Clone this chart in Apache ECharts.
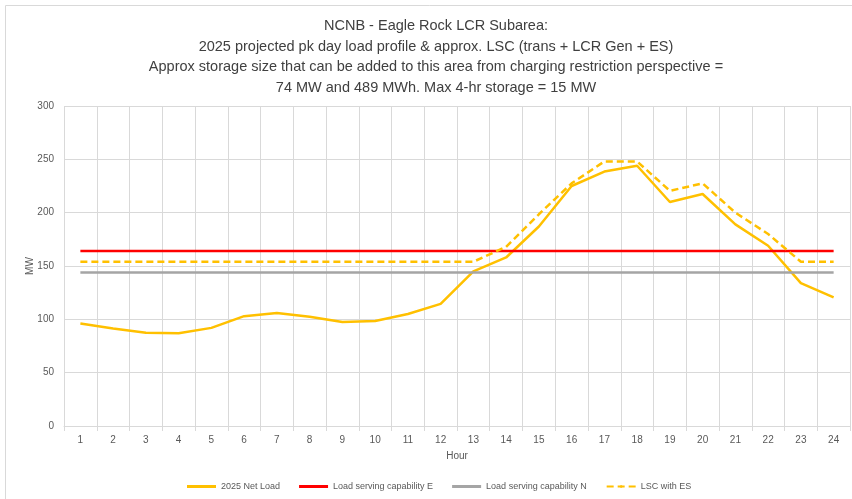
<!DOCTYPE html>
<html>
<head>
<meta charset="utf-8">
<script src="https://cdn.jsdelivr.net/npm/echarts@6/dist/echarts.min.js"></script>
<style>
  html, body { margin: 0; padding: 0; background: #fff; }
  #chart { width: 852px; height: 499px; }
</style>
</head>
<body>
<div id="chart"></div>
<script>
const hours = ['1','2','3','4','5','6','7','8','9','10','11','12','13','14','15','16','17','18','19','20','21','22','23','24'];
const netLoad = [96, 91.5, 87.5, 87, 92, 103, 106, 102.5, 97.5, 98.5, 105, 114.5, 145, 158, 187, 225, 238.5, 244, 210, 217.5, 189, 169, 134, 120.5];
const lscE = [164, 164, 164, 164, 164, 164, 164, 164, 164, 164, 164, 164, 164, 164, 164, 164, 164, 164, 164, 164, 164, 164, 164, 164];
const lscN = [144, 144, 144, 144, 144, 144, 144, 144, 144, 144, 144, 144, 144, 144, 144, 144, 144, 144, 144, 144, 144, 144, 144, 144];
const lscES = [154, 154, 154, 154, 154, 154, 154, 154, 154, 154, 154, 154, 154, 168, 198.5, 227.5, 248, 248, 220.5, 227.5, 200, 180, 154, 154];

const titleText = 'NCNB - Eagle Rock LCR Subarea:\n2025 projected pk day load profile & approx. LSC (trans + LCR Gen + ES)\nApprox storage size that can be added to this area from charging restriction perspective =\n74 MW and 489 MWh. Max 4-hr storage = 15 MW';

const chart = echarts.init(document.getElementById('chart'));
const font = 'Liberation Sans, sans-serif';

chart.setOption({
  animation: false,
  textStyle: { fontFamily: font },
  graphic: [{
    type: 'rect',
    shape: { x: 5.5, y: 5.5, width: 900, height: 600 },
    style: { fill: 'none', stroke: '#d9d9d9', lineWidth: 1 },
    silent: true
  }],
  title: {
    text: titleText,
    left: 431,
    textAlign: 'center',
    top: 11,
    textStyle: { fontSize: 14.5, fontWeight: 'normal', color: '#404040', lineHeight: 20.5, fontFamily: font }
  },
  grid: { left: 64, right: 2, top: 106, bottom: 73 },
  legend: {
    bottom: 3,
    left: 182,
    itemWidth: 29,
    itemHeight: 3,
    itemGap: 19,
    textStyle: { fontSize: 9, color: '#595959' },
    data: [
      { name: '2025 Net Load', icon: 'rect' },
      { name: 'Load serving capability E', icon: 'rect' },
      { name: 'Load serving capability N', icon: 'rect' },
      { name: 'LSC with ES' }
    ]
  },
  xAxis: {
    type: 'category',
    data: hours,
    name: 'Hour',
    nameLocation: 'middle',
    nameGap: 25,
    nameTextStyle: { fontSize: 10, color: '#595959' },
    axisLine: { lineStyle: { color: '#d9d9d9' } },
    axisTick: { show: true, length: 5, lineStyle: { color: '#d9d9d9' } },
    axisLabel: { fontSize: 10, color: '#595959', margin: 9 },
    splitLine: { show: true, lineStyle: { color: '#d9d9d9' } }
  },
  yAxis: {
    type: 'value',
    min: 0,
    max: 300,
    interval: 50,
    name: 'MW',
    nameLocation: 'middle',
    nameGap: 29,
    nameMoveOverlap: false,
    nameTextStyle: { fontSize: 10, color: '#595959' },
    axisLine: { show: false },
    axisTick: { show: false },
    axisLabel: { fontSize: 10, color: '#595959', margin: 10 },
    splitLine: { lineStyle: { color: '#d9d9d9' } }
  },
  series: [
    {
      name: '2025 Net Load', type: 'line', data: netLoad, symbol: 'none',
      lineStyle: { color: '#FFC000', width: 2.5 }, itemStyle: { color: '#FFC000' }
    },
    {
      name: 'Load serving capability E', type: 'line', data: lscE, symbol: 'none',
      lineStyle: { color: '#FF0000', width: 2.5 }, itemStyle: { color: '#FF0000' }
    },
    {
      name: 'Load serving capability N', type: 'line', data: lscN, symbol: 'none',
      lineStyle: { color: '#A5A5A5', width: 2.5 }, itemStyle: { color: '#A5A5A5' }
    },
    {
      name: 'LSC with ES', type: 'line', data: lscES, symbol: 'none',
      lineStyle: { color: '#FFC000', width: 2.5, type: [7, 4] }, itemStyle: { color: '#FFC000' }
    }
  ]
});
</script>
</body>
</html>
